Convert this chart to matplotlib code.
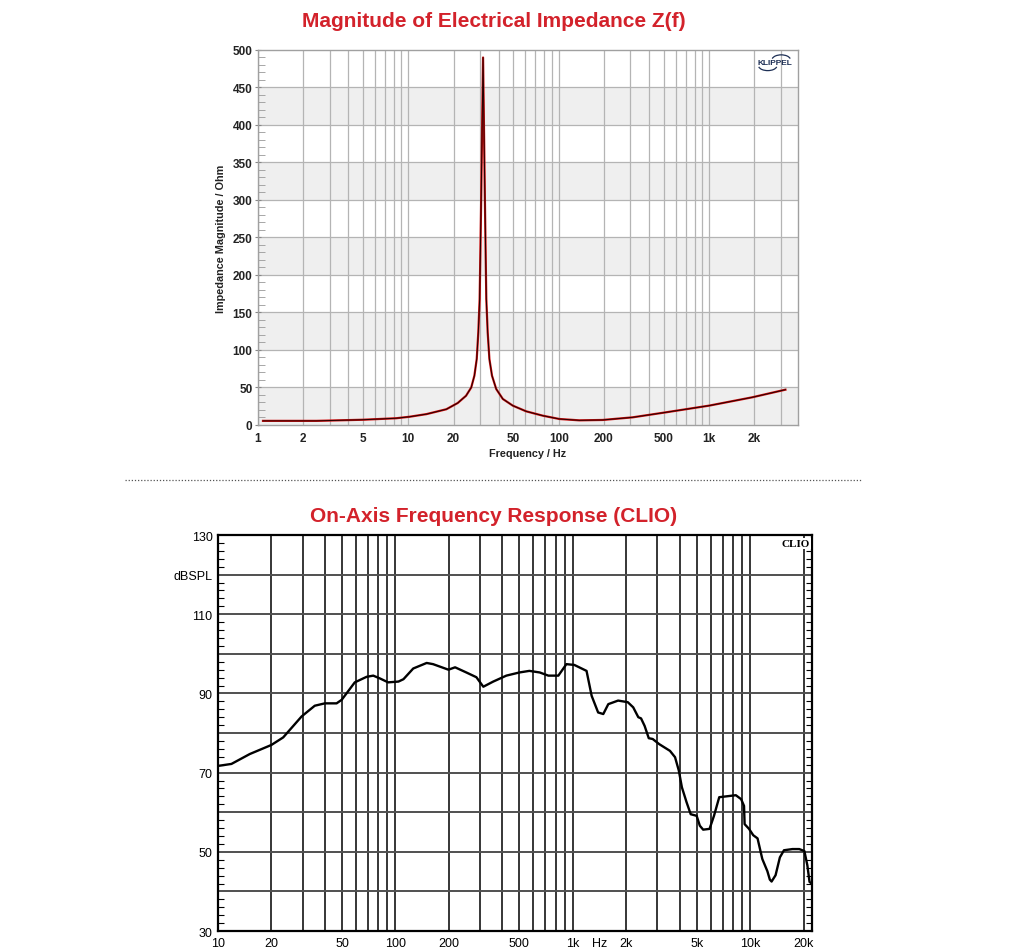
import numpy as np
import matplotlib
matplotlib.use("Agg")
import matplotlib.pyplot as plt
from matplotlib.patches import Arc
from matplotlib.ticker import FixedLocator

plt.rcParams['font.family'] = ['Liberation Sans', 'DejaVu Sans']

# impedance magnitude
imp_freq = [1.08, 2.45, 5.0, 8.3, 10.2, 13.2, 17.9, 21.3, 24.2, 26.2, 27.5, 28.5,
            29.2, 29.8, 30.4, 31.4, 32.4, 33.0, 33.7, 34.6, 36.0, 38.4, 42.5,
            49.5, 60.8, 78.4, 101, 137, 196, 310, 517, 1000, 1935, 3220]
imp_ohm = [5.5, 5.5, 7.0, 9.0, 11.0, 14.5, 21.0, 29.3, 39.0, 50.0, 65.8, 88.0,
           123.6, 168.0, 280.0, 490.0, 280.0, 168.0, 123.6, 88.0, 65.8, 48.0, 34.7,
           25.8, 18.2, 12.4, 8.0, 6.2, 6.7, 10.2, 16.9, 25.8, 36.9, 47.1]
imp_xticks = [1, 2, 5, 10, 20, 50, 100, 200, 500, 1000, 2000]
imp_xlabels = ['1', '2', '5', '10', '20', '50', '100', '200', '500', '1k', '2k']

# on-axis SPL
fr_freq = [10, 11.9, 15.1, 20, 23.3, 29.6, 35.1, 40, 46.6, 49.8, 59, 68.8, 75,
           81.7, 91, 104, 111, 126, 150, 163, 199, 217, 251, 286, 313, 356,
           422, 500, 569, 651, 728, 829, 920, 1020, 1195, 1277, 1389, 1485,
           1585, 1800, 2040, 2190, 2340, 2425, 2540, 2680, 2820, 3070, 3530,
           3770, 3960, 4120, 4380, 4620, 4990, 5200, 5430, 5900, 6250, 6690,
           7300, 8300, 8890, 9230, 9300, 9850, 10400, 11000, 11700, 12500,
           12900, 13200, 13900, 14700, 15500, 17300, 18900, 20200, 21000,
           21600, 22200]
fr_db = [71.7, 72.2, 74.7, 77.0, 78.9, 84.2, 86.9, 87.5, 87.5, 88.4, 92.8, 94.2,
         94.5, 93.8, 92.8, 93.0, 93.6, 96.3, 97.7, 97.4, 96.0, 96.6, 95.3, 94.1,
         91.7, 93.0, 94.5, 95.3, 95.7, 95.3, 94.5, 94.5, 97.4, 97.2, 95.7, 89.4,
         85.2, 84.8, 87.3, 88.2, 87.8, 86.5, 84.0, 83.7, 81.8, 78.7, 78.5, 77.2,
         75.5, 73.9, 70.5, 66.3, 62.5, 59.5, 59.1, 56.6, 55.6, 55.8, 59.1, 63.8,
         64.0, 64.3, 63.3, 61.6, 57.0, 55.8, 54.2, 53.4, 48.2, 45.1, 43.0, 42.5,
         44.1, 48.6, 50.4, 50.7, 50.7, 50.2, 46.6, 42.4, 42.0]
fr_xticks = [10, 20, 50, 100, 200, 500, 1000, 2000, 5000, 10000, 20000]
fr_xlabels = ['10', '20', '50', '100', '200', '500', '1k', '2k', '5k', '10k', '20k']
fr_yticks = [30, 40, 50, 60, 70, 80, 90, 100, 110, 120, 130]
fr_ylabels = ['30', '', '50', '', '70', '', '90', '', '110', 'dBSPL', '130']

RED = '#d3222b'


def decade_lines(lo, hi):
    out = []
    d = 1
    while d <= hi:
        for m in range(1, 10):
            v = m * d
            if lo <= v <= hi:
                out.append(v)
        d *= 10
    return out


fig = plt.figure(figsize=(10.16, 9.53), dpi=100)

# ---------------- impedance ----------------
ax1 = fig.add_axes([0.2539, 0.553, 0.5315, 0.3935])
ax1.set_xscale('log')
ax1.set_xlim(1, 3900)
ax1.set_ylim(0, 500)
for lo in range(0, 500, 100):
    ax1.axhspan(lo, lo + 50, color='#efefef', zorder=0, lw=0)
for v in decade_lines(1, 3900):
    ax1.axvline(v, color='#b4b4b4', lw=0.9, zorder=1)
for v in range(50, 500, 50):
    ax1.axhline(v, color='#b4b4b4', lw=0.9, zorder=1)
ax1.plot(imp_freq, imp_ohm, color='#d01010', lw=1.6, zorder=3)
ax1.plot(imp_freq, imp_ohm, color='#200000', lw=0.7, zorder=4)

ax1.xaxis.set_major_locator(FixedLocator(imp_xticks))
ax1.xaxis.set_minor_locator(FixedLocator([]))
ax1.set_xticklabels(imp_xlabels)
ax1.set_yticks(range(0, 501, 50))
ax1.yaxis.set_minor_locator(FixedLocator(range(0, 501, 10)))
ax1.tick_params(axis='x', length=0, pad=5, labelsize=8.5, labelcolor='#222222')
ax1.tick_params(axis='y', which='major', length=4, direction='inout', color='#888888',
                labelsize=8.5, labelcolor='#222222', pad=2)
ax1.tick_params(axis='y', which='minor', length=5, direction='in', color='#999999')
for lab in ax1.get_xticklabels() + ax1.get_yticklabels():
    lab.set_fontweight('bold')
for s in ax1.spines.values():
    s.set_color('#a0a0a0')
    s.set_linewidth(1.0)
ax1.set_xlabel('Frequency / Hz', fontsize=7.8, fontweight='bold', color='#222222', labelpad=3)
ax1.set_ylabel('Impedance Magnitude / Ohm', fontsize=7.8, fontweight='bold',
               color='#222222', labelpad=5)

# small Klippel logo: text with a flat arc above the right half, one below the left half
ax1.text(0.989, 0.966, 'KLIPPEL', transform=ax1.transAxes, ha='right', va='center',
         fontsize=6, fontweight='bold', color='#1d2f55', zorder=5)
ax1.add_patch(Arc((0.969, 0.974), 0.034, 0.026, theta1=10, theta2=170,
                  transform=ax1.transAxes, color='#1d2f55', lw=0.9, zorder=5))
ax1.add_patch(Arc((0.944, 0.958), 0.034, 0.026, theta1=190, theta2=350,
                  transform=ax1.transAxes, color='#1d2f55', lw=0.9, zorder=5))

fig.text(0.486, 0.977, 'Magnitude of Electrical Impedance Z(f)', ha='center', va='center',
         fontsize=15, fontweight='bold', color=RED)

# dotted separator
fig.add_artist(plt.Line2D([125 / 1016, 862 / 1016], [1 - 481 / 953, 1 - 481 / 953],
                          color='#555555', lw=0.9, ls=(0, (1, 1.5))))

fig.text(0.486, 1 - 517 / 953, 'On-Axis Frequency Response (CLIO)', ha='center', va='center',
         fontsize=15, fontweight='bold', color=RED)

# ---------------- frequency response ----------------
ax2 = fig.add_axes([0.2146, 0.022, 0.5846, 0.4155])
ax2.set_xscale('log')
ax2.set_xlim(10, 22300)
ax2.set_ylim(30, 130)
for v in decade_lines(20, 20000):
    ax2.axvline(v, color='#000000', lw=1.1, zorder=1)
for v in range(40, 130, 10):
    ax2.axhline(v, color='#505050', lw=1.4, zorder=1)
ax2.plot(fr_freq, fr_db, color='black', lw=1.7, zorder=3)

ax2.xaxis.set_major_locator(FixedLocator(fr_xticks))
ax2.xaxis.set_minor_locator(FixedLocator([]))
ax2.set_xticklabels(fr_xlabels)
ax2.set_yticks(fr_yticks)
ax2.set_yticklabels(fr_ylabels)
ax2.yaxis.set_minor_locator(FixedLocator(range(30, 131, 2)))
ax2.tick_params(axis='x', length=0, pad=4, labelsize=9)
ax2.tick_params(axis='y', which='major', length=0, labelsize=9, pad=4)
ax2.tick_params(axis='y', which='minor', length=4, direction='in', left=True, right=True,
                width=0.8)
for s in ax2.spines.values():
    s.set_color('black')
    s.set_linewidth(1.6)
ax2.annotate('Hz', xy=(1410, 0), xycoords=ax2.get_xaxis_transform(),
             xytext=(0, -4), textcoords='offset points', ha='center', va='top', fontsize=9)
ax2.text(0.997, 0.99, 'CLIO', transform=ax2.transAxes, ha='right', va='top',
         fontsize=8, fontweight='bold', family=['Liberation Serif', 'DejaVu Serif'],
         zorder=5, bbox=dict(facecolor='white', edgecolor='none', pad=0.8))

fig.savefig('out.png', dpi=100)
